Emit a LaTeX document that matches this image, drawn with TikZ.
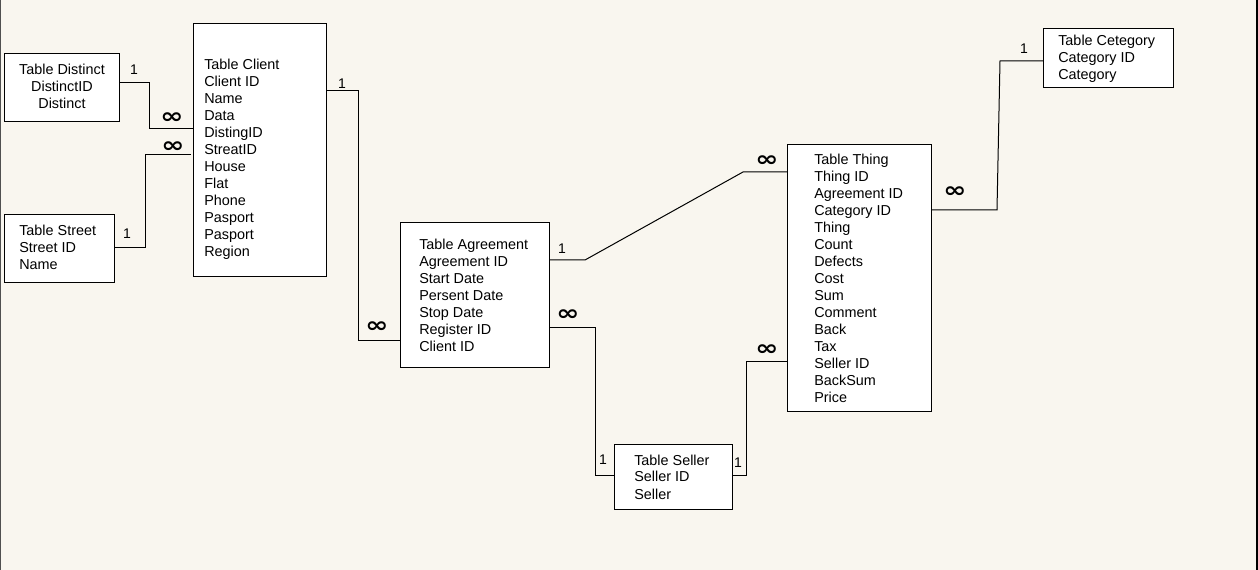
\documentclass[tikz,border=0pt]{standalone}
\usepackage{fontspec}
\setmainfont{Liberation Sans}
\newfontfamily\symfont{DejaVu Sans}
\usetikzlibrary{calc}
\definecolor{PaperCream}{HTML}{F9F6EF}
\definecolor{EdgeGray}{HTML}{505050}
\newcommand{\many}{\scalebox{1.3}[1]{\symfont\bfseries\fontsize{16}{16}\selectfont ∞}}

\begin{document}
\begin{tikzpicture}[x=0.75pt,y=-0.75pt,font=\fontsize{10.8}{12.75}\selectfont,
tbl/.style 2 args={draw,fill=white,line width=0.75pt,anchor=north west,inner sep=0pt,
  minimum width=#1*0.75pt,minimum height=#2*0.75pt},
fields/.style={inner sep=0pt,anchor=base west},
rel/.style={line width=0.75pt},
one/.style={inner sep=0pt,font=\fontsize{10.5}{10.5}\selectfont},
many/.style={inner sep=0pt}]
% page
\fill[PaperCream] (0,0) rectangle (1258,570);
\useasboundingbox (0,0) rectangle (1258,570);
\draw[EdgeGray,line width=0.75pt] (0.5,0) -- (0.5,570);
\draw[black,line width=1.5pt] (1257,0) -- (1257,570);
% tables
\node[tbl={115}{68}] (distinct) at (4,53) {};
\node[inner sep=0pt,anchor=base] (distinctf) at ($(distinct.north)+(0,22)$)
  {\begin{tabular}[t]{@{}c@{}}Table Distinct\\DistinctID\\Distinct\end{tabular}};
\node[tbl={133}{253}] (client) at (193,23) {};
\node[fields] (clientf) at ($(client.north west)+(11,47)$)
  {\begin{tabular}[t]{@{}l@{}}Table Client\\Client ID\\Name\\Data\\DistingID\\StreatID\\House\\Flat\\Phone\\Pasport\\Pasport\\Region\end{tabular}};
\node[tbl={110}{68}] (street) at (4,214) {};
\node[fields] (streetf) at ($(street.north west)+(15,22)$)
  {\begin{tabular}[t]{@{}l@{}}Table Street\\Street ID\\Name\end{tabular}};
\node[tbl={149}{145}] (agreement) at (400,222) {};
\node[fields] (agreementf) at ($(agreement.north west)+(19,27.5)$)
  {\begin{tabular}[t]{@{}l@{}}Table Agreement\\Agreement ID\\Start Date\\Persent Date\\Stop Date\\Register ID\\Client ID\end{tabular}};
\node[tbl={144}{267}] (thing) at (787,144) {};
\node[fields] (thingf) at ($(thing.north west)+(27,21)$)
  {\begin{tabular}[t]{@{}l@{}}Table Thing\\Thing ID\\Agreement ID\\Category ID\\Thing\\Count\\Defects\\Cost\\Sum\\Comment\\Back\\Tax\\Seller ID\\BackSum\\Price\end{tabular}};
\node[tbl={118}{65}] (seller) at (614,444) {};
\node[fields] (sellerf) at ($(seller.north west)+(20,21)$)
  {\begin{tabular}[t]{@{}l@{}}Table Seller\\Seller ID\\Seller\end{tabular}};
\node[tbl={130}{59}] (category) at (1043,28) {};
\node[fields] (categoryf) at ($(category.north west)+(15,18)$)
  {\begin{tabular}[t]{@{}l@{}}Table Cetegory\\Category ID\\Category\end{tabular}};
% relations
\draw[rel] ($(distinct.north east)+(0,30)$) -- ++(29,0) |- ($(client.north west)+(0,106)$);
\draw[rel] ($(street.north east)+(0,34)$) -- ++(30,0) |- ($(client.north west)+(-2,132)$);
\draw[rel] ($(client.north east)+(0,68)$) -- ++(31,0) |- ($(agreement.north west)+(0,119)$);
\draw[rel] ($(agreement.north east)+(0,38)$) -- ++(35,0) -- ++(158,-88) -- ($(thing.north west)+(0,28)$);
\draw[rel] ($(agreement.north east)+(0,106)$) -- ++(45,0) |- ($(seller.north west)+(0,32)$);
\draw[rel] ($(seller.north east)+(0,32)$) -- ++(13,0) |- ($(thing.north west)+(0,218)$);
\draw[rel] ($(thing.north east)+(0,66)$) -- ++(65,0) -- ++(3,-149) -- ($(category.north west)+(0,33)$);
% cardinalities
\node[one] (d1) at (134,70) {1};
\node[many] (dm) at (172,118) {\many};
\node[one] (s1) at (127,234) {1};
\node[many] (sm) at (173,147) {\many};
\node[one] (c1) at (342,84) {1};
\node[many] (cm) at (377,327) {\many};
\node[one] (a1) at (562,249) {1};
\node[many] (am) at (767,161) {\many};
\node[many] (rm) at (568,315) {\many};
\node[one] (r1) at (603,460) {1};
\node[one] (e1) at (738,463) {1};
\node[many] (em) at (767,350) {\many};
\node[many] (tm) at (955,192) {\many};
\node[one] (t1) at (1024,49) {1};
\end{tikzpicture}
\end{document}
